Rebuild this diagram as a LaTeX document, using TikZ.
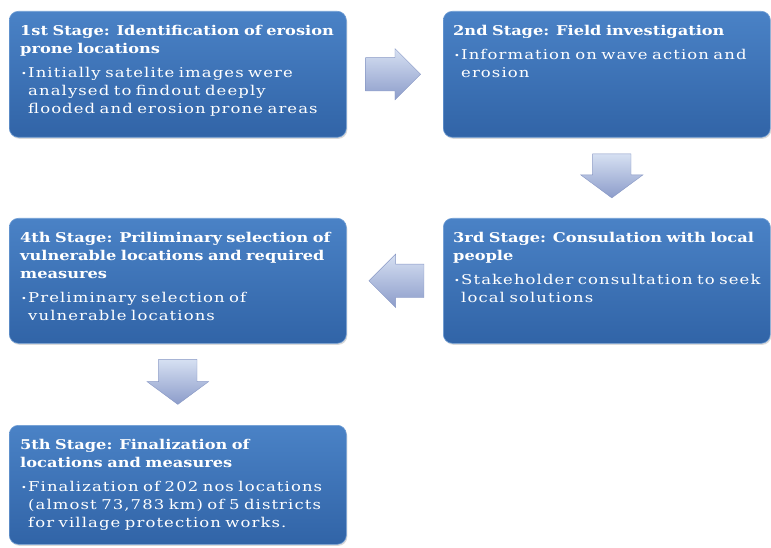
\documentclass[tikz,border=0pt]{standalone}
\usepackage{fontspec}
\setmainfont{DejaVu Serif}
\newfontfamily\titlefont{DejaVu Serif}[FakeStretch=1.2]
\newfontfamily\bodyfont{DejaVu Serif}[FakeStretch=1.22, LetterSpace=8]
\usetikzlibrary{shapes.arrows,shadows,calc}
\definecolor{boxtop}{HTML}{4A82C6}
\definecolor{boxbot}{HTML}{3164A7}
\definecolor{boxline}{HTML}{6F9DD4}
\definecolor{arrowtop}{HTML}{D6E0F2}
\definecolor{arrowbot}{HTML}{8C9CCA}
\definecolor{arrowline}{HTML}{8797C4}
\newcommand{\bul}{\makebox[8pt][l]{\hspace{1pt}\raisebox{0.2ex}{\fontsize{8}{8}\selectfont\textbullet}}}
\tikzset{
  stagebox/.style={rounded corners=9pt, top color=boxtop, bottom color=boxbot,
    draw=boxline, line width=0.6pt, anchor=north west, inner sep=0pt,
    drop shadow={opacity=0.3, shadow xshift=1pt, shadow yshift=-1.5pt}},
  stagetext/.style={anchor=north west, text=white, align=left, inner sep=0pt,
    text width=420pt, font=\fontsize{13.5}{18}\selectfont},
  blockarrow/.style={single arrow, draw=arrowline, line width=0.4pt,
    top color=arrowtop, bottom color=arrowbot, single arrow head indent=0pt},
  harrow/.style={blockarrow, inner xsep=2pt, inner ysep=16.5pt, minimum height=55pt, single arrow tip angle=90},
  varrow/.style={blockarrow, inner xsep=19pt, inner ysep=2pt, minimum height=44pt, single arrow tip angle=107, shape border rotate=270},
}
\newcommand{\stagebody}[2]{{\titlefont\bfseries #1}\par\vspace{6pt}{\bodyfont\leftskip=8pt\hspace*{-8pt}\bul #2\par}}
\begin{document}
\begin{tikzpicture}[x=1pt,y=-1pt]
\useasboundingbox (0,0) rectangle (771,548);
\clip (0,0) rectangle (771,548);
% boxes
\node[stagebox, minimum width=337pt, minimum height=126pt] (s1) at (9,11) {};
\node[stagebox, minimum width=327pt, minimum height=126pt] (s2) at (443,11) {};
\node[stagebox, minimum width=327pt, minimum height=125pt] (s3) at (443,218) {};
\node[stagebox, minimum width=337pt, minimum height=125pt] (s4) at (9,218) {};
\node[stagebox, minimum width=337pt, minimum height=119pt] (s5) at (9,425) {};
% texts
\node[stagetext] (t1) at ($(s1.north west)+(11,14)$) {\stagebody{1st Stage: Identification of erosion\\prone locations}{Initially satelite images were\\analysed to findout deeply\\flooded and erosion prone areas}};
\node[stagetext] (t2) at ($(s2.north west)+(10,14)$) {\stagebody{2nd Stage: Field investigation}{Information on wave action and\\erosion}};
\node[stagetext] (t3) at ($(s3.north west)+(10,14)$) {\stagebody{3rd Stage: Consulation with local\\people}{Stakeholder consultation to seek\\local solutions}};
\node[stagetext] (t4) at ($(s4.north west)+(11,14)$) {\stagebody{4th Stage: Priliminary selection of\\vulnerable locations and required\\measures}{Preliminary selection of\\vulnerable locations}};
\node[stagetext] (t5) at ($(s5.north west)+(11,14)$) {\stagebody{5th Stage: Finalization of\\locations and measures}{Finalization of 202 nos locations\\(almost 73,783 km) of 5 districts\\for village protection works.}};
% block arrows
\node[harrow, single arrow head extend=9pt] (a12) at ($(s1.east)!0.5!(s2.west)+(-10,0)$) {};
\node[varrow, single arrow head extend=12pt] (a23) at ($(s2.south)!0.5!(s3.north)+(5,-9)$) {};
\node[harrow, single arrow head extend=10pt, shape border rotate=180] (a34) at ($(s3.west)!0.5!(s4.east)+(10,0)$) {};
\node[varrow, single arrow head extend=11.5pt, minimum height=45pt] (a45) at ($(s4.south)!0.5!(s5.north)+(0,-9.5)$) {};
\end{tikzpicture}
\end{document}
